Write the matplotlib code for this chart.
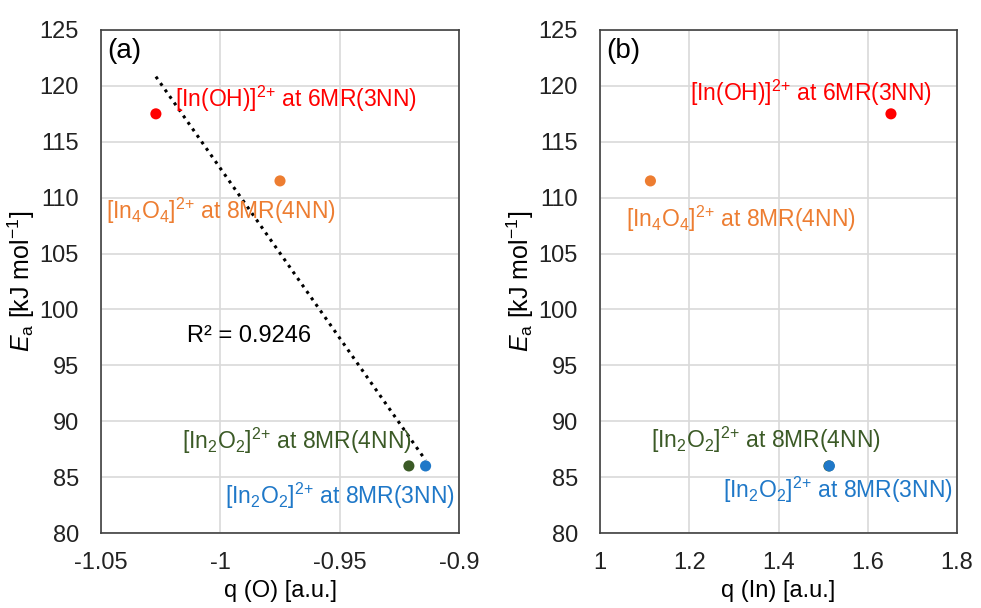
import numpy as np
import matplotlib
matplotlib.use("Agg")
import matplotlib.pyplot as plt

plt.rcParams["font.family"] = ["Liberation Sans", "DejaVu Sans"]
plt.rcParams["mathtext.fontset"] = "custom"
plt.rcParams["mathtext.rm"] = "Liberation Sans"
plt.rcParams["mathtext.it"] = "Liberation Sans:italic"

# data
sites = ["[In(OH)]$^{2{+}}$ at 6MR(3NN)",
         "[In$_4$O$_4$]$^{2{+}}$ at 8MR(4NN)",
         "[In$_2$O$_2$]$^{2{+}}$ at 8MR(4NN)",
         "[In$_2$O$_2$]$^{2{+}}$ at 8MR(3NN)"]
colors = ["#FF0000", "#ED7D31", "#3B5A26", "#1F78C8"]
ea = [117.5, 111.5, 86.0, 86.0]
q_o = [-1.027, -0.975, -0.921, -0.914]
q_in = [1.652, 1.113, 1.513, 1.514]

# label anchors (data coords)
lab_a = [(-1.019, 118.8), (-1.048, 108.8), (-1.016, 88.2), (-0.998, 83.3)]
lab_b = [(1.202, 119.4), (1.058, 108.1), (1.114, 88.35), (1.276, 83.9)]

fig = plt.figure(figsize=(9.81, 6.08), dpi=100)
ax1 = fig.add_axes([101 / 981, 1 - 533 / 608, 358 / 981, 503 / 608])
ax2 = fig.add_axes([600 / 981, 1 - 533 / 608, 357 / 981, 503 / 608])

FS = 17


def style(ax, xlim, xticks, xlabel, tag):
    ax.set_xlim(*xlim)
    ax.set_ylim(80, 125)
    ax.set_xticks(xticks)
    ax.set_yticks(np.arange(80, 126, 5))
    ax.grid(True, color="#D9D9D9", lw=1.2)
    ax.set_axisbelow(True)
    ax.tick_params(length=0, labelsize=FS, colors="#222222")
    ax.tick_params(axis="y", pad=16)
    ax.tick_params(axis="x", pad=14)
    for s in ax.spines.values():
        s.set_color("#404040")
        s.set_linewidth(1.2)
    ax.set_xlabel(xlabel, fontsize=FS, labelpad=4)
    ax.set_ylabel(r"$\mathit{E}_{\mathrm{a}}$ [kJ mol$^{\mathrm{-1}}$]", fontsize=FS + 1, labelpad=2)
    ax.text(0.018, 0.985, tag, transform=ax.transAxes, fontsize=FS + 3, va="top", ha="left")


style(ax1, (-1.05, -0.9), [-1.05, -1.0, -0.95, -0.9], "q (O) [a.u.]", "(a)")
ax1.set_xticklabels(["-1.05", "-1", "-0.95", "-0.9"])
style(ax2, (1.0, 1.8), [1.0, 1.2, 1.4, 1.6, 1.8], "q (In) [a.u.]", "(b)")
ax2.set_xticklabels(["1", "1.2", "1.4", "1.6", "1.8"])

for ax, xs, labs in [(ax1, q_o, lab_a), (ax2, q_in, lab_b)]:
    for x, y, c, name, (lx, ly) in zip(xs, ea, colors, sites, labs):
        ax.scatter(x, y, s=64, color=c, zorder=3, edgecolors="none")
        ax.text(lx, ly, name, color=c, fontsize=FS - 0.5, va="center", ha="left")

# linear trendline for (a)
k, b = np.polyfit(q_o, ea, 1)
xs = np.array([min(q_o), max(q_o)])
ax1.plot(xs, k * xs + b, ls=(0, (1, 1.6)), color="black", lw=2.2, zorder=2)
ax1.text(-1.014, 97.6, "R² = 0.9246", fontsize=FS, va="center", ha="left")

fig.savefig("out.png", dpi=100)
